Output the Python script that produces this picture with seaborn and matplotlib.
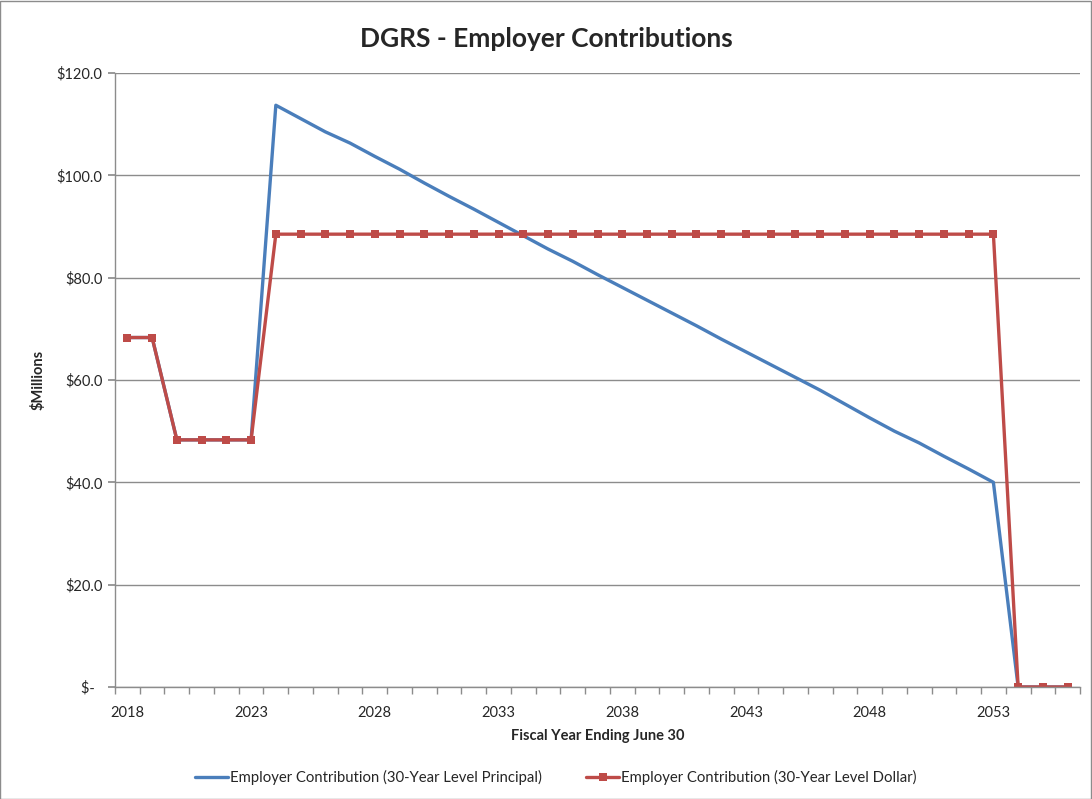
import numpy as np
import matplotlib
matplotlib.use("Agg")
import matplotlib.pyplot as plt
import seaborn as sns
from matplotlib.patches import Rectangle
from matplotlib.ticker import FixedLocator

years = list(range(2018, 2057))

# 30-year level principal (blue), $ millions
level_principal = [68.3, 68.3, 48.3, 48.3, 48.3, 48.3,
                   113.7, 111.1, 108.5, 106.3, 103.7, 101.2, 98.5, 95.9, 93.4, 90.8,
                   88.2, 85.6, 83.2, 80.6, 78.1, 75.6, 73.1, 70.6, 68.0, 65.5,
                   63.0, 60.5, 58.0, 55.3, 52.6, 50.0, 47.7, 45.1, 42.6, 40.0,
                   0.0, 0.0, 0.0]

# 30-year level dollar (red), $ millions
level_dollar = [68.3, 68.3, 48.3, 48.3, 48.3, 48.3] + [88.5] * 30 + [0.0, 0.0, 0.0]

series_names = ["Employer Contribution (30-Year Level Principal)",
                "Employer Contribution (30-Year Level Dollar)"]
colors = ["#4A7EBB", "#BE4B48"]

yticks = [0, 20, 40, 60, 80, 100, 120]
ytick_labels = ["$-  ", "$20.0", "$40.0", "$60.0", "$80.0", "$100.0", "$120.0"]
xtick_years = [2018, 2023, 2028, 2033, 2038, 2043, 2048, 2053]

sns.set_theme(style="white")
plt.rcParams['font.family'] = ['Lato', 'DejaVu Sans']

fig = plt.figure(figsize=(10.92, 7.99), dpi=100)
ax = fig.add_axes([115 / 1092, 1 - 687 / 799, 965 / 1092, 614 / 799])

sns.lineplot(x=years, y=level_principal, ax=ax, color=colors[0], lw=2.4,
             label=series_names[0])
sns.lineplot(x=years, y=level_dollar, ax=ax, color=colors[1], lw=2.4,
             marker="s", markersize=5.5, markeredgewidth=0, label=series_names[1])

ax.set_xlim(2017.5, 2056.5)
ax.set_ylim(0, 120)
ax.set_yticks(yticks)
ax.set_yticklabels(ytick_labels, fontsize=10.5)
ax.yaxis.grid(True, color="#8C8C8C", lw=1)
ax.set_axisbelow(True)

ax.xaxis.set_major_locator(FixedLocator(xtick_years))
ax.set_xticklabels([str(y) for y in xtick_years], fontsize=10.5)
ax.xaxis.set_minor_locator(FixedLocator(np.arange(2017.5, 2057, 1)))
ax.tick_params(axis="x", which="major", length=0, pad=14)
ax.tick_params(axis="x", which="minor", length=5, color="#8C8C8C", direction="out", bottom=True)
ax.tick_params(axis="y", length=5, color="#8C8C8C", direction="out", left=True, pad=4)

for side in ["top", "right"]:
    ax.spines[side].set_visible(False)
for side in ["left", "bottom"]:
    ax.spines[side].set_color("#8C8C8C")
    ax.spines[side].set_linewidth(1)

ax.set_xlabel("Fiscal Year Ending June 30", fontsize=10.5, fontweight="bold", labelpad=6)
ax.set_ylabel("$Millions", fontsize=10.5, fontweight="bold", labelpad=8)
fig.suptitle("DGRS - Employer Contributions", fontsize=19, fontweight="bold", y=0.966)

ax.get_legend().remove()
handles, labels = ax.get_legend_handles_labels()
fig.legend(handles, labels, loc="center", bbox_to_anchor=(0.509, 0.027), ncol=2,
           frameon=False, fontsize=10.7, handlelength=2.2, columnspacing=3.0,
           handletextpad=0.15)

fig.patches.append(Rectangle((0.0, 0.0), 0.999, 0.999, transform=fig.transFigure,
                             fill=False, edgecolor="#8C8C8C", lw=1))

fig.savefig("out.png", dpi=100)
